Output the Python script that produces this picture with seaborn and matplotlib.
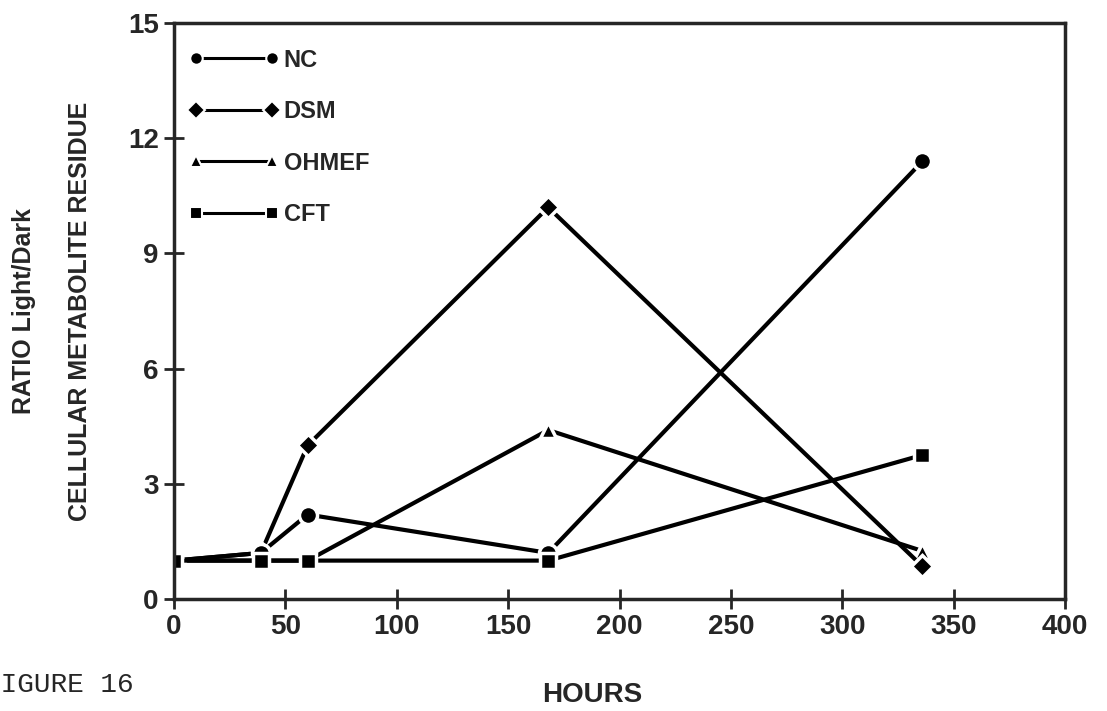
import matplotlib
matplotlib.use("Agg")
import matplotlib.pyplot as plt
import seaborn as sns
import pandas as pd

hours = [0, 39, 60, 168, 336]
series_names = ["NC", "DSM", "OHMEF", "CFT"]
nc = [1.0, 1.2, 2.2, 1.2, 11.4]
dsm = [1.0, 1.2, 4.0, 10.2, 0.85]
ohmef = [1.0, 1.0, 1.0, 4.4, 1.25]
cft = [1.0, 1.0, 1.0, 1.0, 3.75]
x_ticks = [0, 50, 100, 150, 200, 250, 300, 350, 400]
y_ticks = [0, 3, 6, 9, 12, 15]

values = {"NC": nc, "DSM": dsm, "OHMEF": ohmef, "CFT": cft}
markers = {"NC": "o", "DSM": "D", "OHMEF": "^", "CFT": "s"}
msizes = {"NC": 13, "DSM": 11.5, "OHMEF": 12, "CFT": 12}
zorders = {"NC": 4, "DSM": 3, "OHMEF": 2, "CFT": 5}

rows = []
for name in series_names:
    for h, v in zip(hours, values[name]):
        rows.append({"hours": h, "ratio": v, "series": name})
df = pd.DataFrame(rows)

sns.set_style("ticks")
plt.rcParams["font.family"] = ["Liberation Sans", "DejaVu Sans"]
plt.rcParams["font.weight"] = "bold"

W, H = 1107, 711
fig = plt.figure(figsize=(W / 100, H / 100), dpi=100)
ax_l, ax_r, ax_t, ax_b = 174, 1065, 23, 599
ax = fig.add_axes([ax_l / W, (H - ax_b) / H, (ax_r - ax_l) / W, (ax_b - ax_t) / H])

for name in series_names:
    sub = df[df["series"] == name]
    sns.lineplot(data=sub, x="hours", y="ratio", ax=ax, color="black",
                 marker=markers[name], markersize=msizes[name],
                 markeredgecolor="white", markeredgewidth=2.5,
                 linewidth=3, label=name, sort=False, estimator=None,
                 zorder=zorders[name])

ax.set_xlim(0, 400)
ax.set_ylim(0, 15)
ax.set_xticks(x_ticks)
ax.set_yticks(y_ticks)
ax.tick_params(direction="inout", length=14, width=2, labelsize=20, pad=4)
for lab in ax.get_xticklabels() + ax.get_yticklabels():
    lab.set_fontweight("bold")
for sp in ax.spines.values():
    sp.set_linewidth(2.5)
    sp.set_visible(True)
    sp.set_zorder(6)

ax.set_xlabel("")
ax.set_ylabel("")
fig.text(592 / W, 1 - 695 / H, "HOURS", fontsize=20, fontweight="bold",
         ha="center", va="center")
fig.text(80 / W, 1 - 311 / H, "CELLULAR METABOLITE RESIDUE", fontsize=18,
         fontweight="bold", rotation=90, ha="center", va="center")
fig.text(24 / W, 1 - 311 / H, "RATIO Light/Dark", fontsize=18,
         fontweight="bold", rotation=90, ha="center", va="center")

leg = ax.legend(loc="upper left", bbox_to_anchor=(0.0063, 0.972), frameon=False,
                numpoints=2, handlelength=3.8, fontsize=17, labelspacing=1.21,
                handletextpad=0.2, borderaxespad=0.0)
for t in leg.get_texts():
    t.set_fontweight("bold")
for h in leg.legend_handles:
    h.set_markersize(9)
    h.set_markeredgewidth(1.5)
    h.set_linewidth(2.2)

fig.text(-16.5 / W, 1 - 685 / H, "FIGURE 16", fontsize=20,
         family=["Liberation Mono", "DejaVu Sans Mono"],
         fontweight="normal", ha="left", va="center")

fig.savefig("out.png", dpi=100)
